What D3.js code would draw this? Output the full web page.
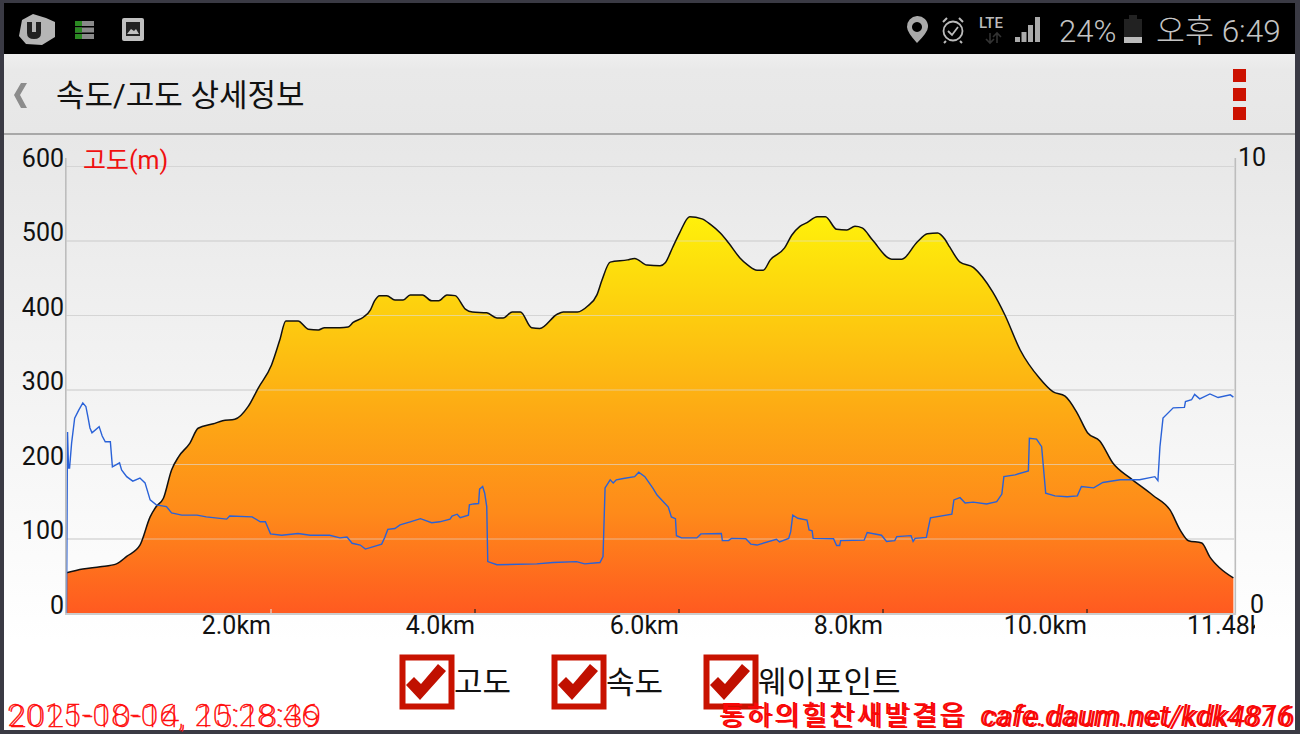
<!DOCTYPE html>
<html><head><meta charset="utf-8">
<script src="https://cdn.jsdelivr.net/npm/d3@7/dist/d3.min.js"></script>
<style>html,body{margin:0;padding:0;background:#fff;overflow:hidden}svg{display:block}text{font-family:Roboto,"Noto Sans CJK KR",sans-serif}</style>
</head><body><div id="c"></div>
<script>
const elevKm=[0,0.16,0.33,0.49,0.59,0.72,0.82,0.88,0.95,1.03,1.10,1.21,1.29,1.44,1.53,1.65,1.78,1.88,2.01,2.09,2.15,2.27,2.37,2.47,2.53,2.68,2.76,2.81,2.91,2.98,3.02,3.07,3.14,3.22,3.30,3.37,3.49,3.58,3.65,3.73,3.81,3.91,3.98,4.12,4.22,4.28,4.37,4.45,4.56,4.64,4.81,4.87,5.01,5.11,5.20,5.25,5.33,5.50,5.57,5.69,5.82,5.87,5.94,6.01,6.11,6.23,6.31,6.41,6.49,6.60,6.68,6.77,6.83,6.90,7.04,7.11,7.19,7.26,7.36,7.44,7.55,7.65,7.73,7.80,7.90,8.09,8.19,8.34,8.44,8.54,8.61,8.66,8.76,8.89,8.98,9.08,9.20,9.35,9.54,9.67,9.79,9.91,10.01,10.13,10.26,10.43,10.65,10.82,10.92,11.00,11.13,11.21,11.31,11.44];
const elevM=[54,59,62,66,76,91,129,143,154,192,210,228,248,254,258,260,277,302,333,366,392,392,381,380,383,383,384,390,397,407,419,426,426,420,420,427,427,419,419,427,426,408,404,403,396,396,404,404,383,382,401,404,404,412,427,447,471,474,476,467,466,470,490,510,532,529,522,510,497,477,467,460,460,474,490,507,519,524,532,532,515,514,519,517,501,475,475,498,509,510,502,491,471,464,451,431,400,353,315,297,291,268,242,231,201,181,158,138,111,97,94,75,60,47];
const speedKm=[0,0.01,0.02,0.03,0.05,0.08,0.12,0.16,0.19,0.21,0.23,0.25,0.32,0.35,0.38,0.43,0.45,0.52,0.54,0.59,0.65,0.72,0.77,0.82,0.88,0.98,1.03,1.13,1.28,1.37,1.57,1.60,1.82,1.90,1.95,2.00,2.11,2.27,2.39,2.58,2.68,2.75,2.80,2.88,2.93,3.09,3.12,3.15,3.22,3.27,3.37,3.47,3.58,3.66,3.76,3.78,3.83,3.86,3.94,3.95,3.99,4.04,4.05,4.08,4.10,4.12,4.13,4.22,4.61,4.77,5.00,5.08,5.23,5.26,5.28,5.33,5.36,5.39,5.46,5.57,5.61,5.67,5.75,5.79,5.90,5.93,5.97,5.98,6.03,6.18,6.22,6.42,6.43,6.49,6.52,6.66,6.71,6.77,6.96,6.99,7.08,7.10,7.12,7.17,7.26,7.28,7.31,7.32,7.52,7.55,7.58,7.59,7.82,7.85,7.99,8.04,8.12,8.14,8.28,8.30,8.32,8.43,8.47,8.68,8.70,8.76,8.81,8.89,9.02,9.12,9.17,9.19,9.30,9.43,9.44,9.51,9.56,9.60,9.69,9.81,9.91,9.95,10.07,10.16,10.33,10.52,10.67,10.70,10.72,10.75,10.85,10.96,10.97,11.03,11.06,11.11,11.21,11.29,11.41,11.44];
const speedV=[0,4.05,3.24,3.24,3.80,4.36,4.54,4.70,4.62,4.39,4.14,4.03,4.17,3.96,3.83,3.83,3.27,3.36,3.20,3.05,2.95,3.02,2.91,2.53,2.42,2.38,2.24,2.19,2.19,2.15,2.10,2.17,2.15,2.04,2.04,1.77,1.74,1.78,1.74,1.74,1.68,1.70,1.56,1.52,1.43,1.54,1.69,1.87,1.89,1.97,2.04,2.11,2.02,2.04,2.10,2.17,2.21,2.13,2.19,2.42,2.44,2.45,2.77,2.83,2.68,2.38,1.15,1.08,1.10,1.13,1.15,1.10,1.13,1.26,2.80,2.98,2.91,2.98,3.01,3.05,3.15,3.05,2.79,2.64,2.37,2.15,2.11,1.73,1.68,1.68,1.77,1.78,1.62,1.62,1.67,1.66,1.54,1.52,1.65,1.59,1.67,1.82,2.19,2.12,2.08,1.86,1.84,1.67,1.66,1.51,1.51,1.62,1.63,1.80,1.74,1.60,1.62,1.71,1.73,1.60,1.67,1.69,2.13,2.21,2.53,2.58,2.46,2.48,2.44,2.49,2.66,3.05,3.09,3.18,3.91,3.89,3.72,2.68,2.62,2.60,2.62,2.83,2.80,2.92,2.98,2.98,3.05,2.96,3.72,4.36,4.59,4.60,4.73,4.77,4.89,4.79,4.90,4.82,4.88,4.83];
const elevTicks=[0,100,200,300,400,500,600];
const speedTicks=[0,10];
const kmTicks=[2,4,6,8,10];
const kmEndLabel="11.48km";
const legendItems=["고도","속도","웨이포인트"];
const titleText="속도/고도 상세정보";
const elevTitle="고도(m)";
const stamps=["2015-08-06, 20:28:46","2021-10-14, 15:18:39"];
const noteKo="통하의힐찬새발결읍";
const noteUrls=["cafe.daum.net/kdk4876","cafe.daum.net/kdk4816"];

const W=1300,H=734;
const svg=d3.select("#c").append("svg").attr("width",W).attr("height",H);
const defs=svg.append("defs");
const bg=defs.append("linearGradient").attr("id","bg").attr("x1",0).attr("x2",0).attr("y1",0).attr("y2",1);
bg.append("stop").attr("offset",0).attr("stop-color","#e7e7e7");
bg.append("stop").attr("offset",.85).attr("stop-color","#ffffff");
bg.append("stop").attr("offset",1).attr("stop-color","#ffffff");
const head=defs.append("linearGradient").attr("id","head").attr("x1",0).attr("x2",0).attr("y1",0).attr("y2",1);
head.append("stop").attr("offset",0).attr("stop-color","#efefef");
head.append("stop").attr("offset",.2).attr("stop-color","#e9e9e9");
head.append("stop").attr("offset",1).attr("stop-color","#e7e7e7");
const fillG=defs.append("linearGradient").attr("id","fillG").attr("gradientUnits","userSpaceOnUse").attr("x1",0).attr("x2",0).attr("y1",215).attr("y2",613);
[[0,"#fff10a"],[.12,"#fde00c"],[.5,"#fda914"],[.75,"#fe8a1a"],[1,"#ff5a20"]].forEach(s=>fillG.append("stop").attr("offset",s[0]).attr("stop-color",s[1]));
defs.append("clipPath").attr("id","xclip").append("rect").attr("x",0).attr("y",600).attr("width",1255).attr("height",60);

svg.append("rect").attr("width",W).attr("height",H).attr("fill","#3a3a44");
svg.append("rect").attr("x",4).attr("y",3).attr("width",1291).attr("height",51).attr("fill","#000");
svg.append("rect").attr("x",4).attr("y",54).attr("width",1291).attr("height",79).attr("fill","url(#head)");
svg.append("rect").attr("x",4).attr("y",133).attr("width",1291).attr("height",2).attr("fill","#a8a8a8");
svg.append("rect").attr("x",4).attr("y",135).attr("width",1291).attr("height",595).attr("fill","url(#bg)");

// status bar icons
const st=svg.append("g");
st.append("path").attr("d","M22 20 L33 14 L46 18 L55 22 L55 37 L42 45 L26 44 L19 36 Z").attr("fill","#b5b5b5");
st.append("path").attr("d","M27 22 V33 Q27 39 34 39 Q41 39 41 33 V22 H36 V32 H32 V22 Z").attr("fill","#222");
[0,1,2].forEach(i=>{st.append("rect").attr("x",75).attr("y",21+i*6.5).attr("width",19).attr("height",5).attr("fill","#8a8a8a");st.append("rect").attr("x",75).attr("y",21+i*6.5).attr("width",7).attr("height",5).attr("fill","#2b8a22");});
st.append("rect").attr("x",122).attr("y",18).attr("width",22).attr("height",23).attr("rx",2).attr("fill","#c0c0c0");
st.append("rect").attr("x",126).attr("y",22).attr("width",14).attr("height",14).attr("fill","#222");
st.append("path").attr("d","M127 34 L131 29 L134 31 L136 29 L139 34 Z").attr("fill","#c0c0c0");
st.append("path").attr("d","M917 16 A10.5 10.5 0 0 1 928 27 Q928 32 917 43 Q907 32 907 27 A10.5 10.5 0 0 1 917 16 Z M917 22 A5 5 0 1 0 917.01 22 Z").attr("fill","#aaa").attr("fill-rule","evenodd");
st.append("circle").attr("cx",953).attr("cy",31).attr("r",9.5).attr("fill","none").attr("stroke","#bbb").attr("stroke-width",1.8);
st.append("path").attr("d","M948 31 L952 35 L958 27").attr("fill","none").attr("stroke","#bbb").attr("stroke-width",1.8);
st.append("path").attr("d","M943 22 L947 18 M963 22 L959 18 M946 41 L944 43 M960 41 L962 43").attr("stroke","#bbb").attr("stroke-width",2);
st.append("text").attr("x",979).attr("y",28).attr("font-size",15).attr("font-weight",500).attr("fill","#bbb").text("LTE");
st.append("path").attr("d","M990 33 V43 M986 39 L990 43 L994 39 M997 43 V33 M993 37 L997 33 L1001 37").attr("fill","none").attr("stroke","#333").attr("stroke-width",1.6);
[[1015,5],[1021.5,10],[1028,17],[1035,25]].forEach(b=>st.append("rect").attr("x",b[0]).attr("y",42-b[1]).attr("width",5).attr("height",b[1]).attr("fill","#aaa"));
st.append("text").attr("x",1059).attr("y",42).attr("font-size",31).attr("font-weight",300).attr("fill","#c4c4c4").text("24%");
st.append("rect").attr("x",1124).attr("y",19).attr("width",18).attr("height",24).attr("fill","#222");
st.append("rect").attr("x",1129).attr("y",15).attr("width",8).attr("height",4).attr("fill","#222");
st.append("rect").attr("x",1124).attr("y",37).attr("width",18).attr("height",6).attr("fill","#bbb");
st.append("text").attr("x",1156).attr("y",42).attr("font-size",31.5).attr("font-weight",300).attr("fill","#c4c4c4").text("오후 6:49");

// header
svg.append("path").attr("d","M27 83 L20 95 L27 108 L21 108 L14 95 L21 83 Z").attr("fill","#8c8c8c");
svg.append("text").attr("x",56).attr("y",106).attr("font-size",31).attr("font-weight",400).attr("fill","#111").text(titleText);
[69,88,107].forEach(y=>svg.append("rect").attr("x",1233).attr("y",y).attr("width",13).attr("height",13).attr("fill","#cc1100"));

// scales
const x=d3.scaleLinear().domain([0,11.446]).range([66.5,1234]);
const y=d3.scaleLinear().domain([0,600]).range([613,166]);
const yS=d3.scaleLinear().domain([0,10]).range([613,166]);
const elev=elevKm.map((k,i)=>({k,v:elevM[i]}));
const speed=speedKm.map((k,i)=>({k,v:speedV[i]}));

// grid under area
const grid=d3.axisLeft(y).tickValues(elevTicks.slice(1)).tickSize(-(x.range()[1]-x.range()[0])).tickFormat("");
const g0=svg.append("g").attr("transform","translate(66.5,0)").call(grid);
g0.select(".domain").remove();
g0.selectAll("line").attr("stroke","#c8c8c8").attr("stroke-width",1);

svg.append("path").datum(elev).attr("fill","url(#fillG)")
 .attr("d",d3.area().x(d=>x(d.k)).y0(y(0)).y1(d=>y(d.v)).curve(d3.curveMonotoneX));

const g1=svg.append("g").attr("transform","translate(66.5,0)").call(grid);
g1.select(".domain").remove();
g1.selectAll("line").attr("stroke","#dddddd").attr("stroke-opacity",.6).attr("stroke-width",1);

svg.append("path").datum(elev).attr("fill","none").attr("stroke","#111").attr("stroke-width",1.5)
 .attr("d",d3.line().x(d=>x(d.k)).y(d=>y(d.v)).curve(d3.curveMonotoneX));
svg.append("path").datum(speed).attr("fill","none").attr("stroke","#2a62d8").attr("stroke-width",1.4)
 .attr("d",d3.line().x(d=>x(d.k)).y(d=>yS(d.v)));

// frame axes
svg.append("rect").attr("x",65).attr("y",158).attr("width",1.6).attr("height",457).attr("fill","#bdbdbd");
svg.append("rect").attr("x",1234.5).attr("y",158).attr("width",1.6).attr("height",457).attr("fill","#bdbdbd");
svg.append("rect").attr("x",65).attr("y",613).attr("width",1171).attr("height",2).attr("fill","#cccccc");

const axL=svg.append("g").attr("transform","translate(65,0)").call(d3.axisLeft(y).tickValues(elevTicks).tickSize(0).tickPadding(1));
axL.select(".domain").remove();
axL.selectAll("text").attr("font-size",25).attr("fill","#111").attr("transform","translate(0,-8)");
const axR=svg.append("g").attr("transform","translate(1238,0)").call(d3.axisRight(yS).tickValues(speedTicks).tickSize(0).tickPadding(0));
axR.select(".domain").remove();
axR.selectAll("text").attr("font-size",25).attr("fill","#111").attr("transform","translate(0,-9)");
axR.selectAll(".tick").filter(d=>d===0).select("text").attr("x",12);

const axB=svg.append("g").attr("transform","translate(0,613)").call(d3.axisBottom(x).tickValues(kmTicks).tickSizeInner(-4).tickSizeOuter(0).tickPadding(0).tickFormat(d=>d.toFixed(1)+"km"));
axB.select(".domain").remove();
axB.selectAll("line").attr("stroke","#222").attr("stroke-width",1.2);
axB.selectAll(".tick").filter(d=>d===2).select("line").attr("stroke","#ddd");
axB.selectAll("text").attr("font-size",25).attr("fill","#111").attr("text-anchor","end").attr("y",3).attr("dy","0.71em");
svg.append("text").attr("clip-path","url(#xclip)").attr("x",1187).attr("y",634).attr("font-size",25).attr("fill","#111").text(kmEndLabel);

svg.append("text").attr("x",83).attr("y",169).attr("font-size",25).attr("fill","#f01010").text(elevTitle);

// legend
const legX=[400,552,704];
legendItems.forEach((t,i)=>{
 const g=svg.append("g").attr("transform",`translate(${legX[i]},655)`);
 g.append("rect").attr("x",2.5).attr("y",2.5).attr("width",49).attr("height",49).attr("fill","#fff").attr("stroke","#c81200").attr("stroke-width",6);
 g.append("path").attr("d","M6 30 L14 22 L21 29 L38 9 L46 16 L20 45 Z").attr("fill","#c01000");
 g.append("text").attr("x",54).attr("y",38).attr("font-size",31).attr("fill","#111").text(t);
});

// overlaid stamps
stamps.forEach((s,i)=>svg.append("text").attr("x",[7,9][i]).attr("y",[726,727][i]).attr("textLength",312).attr("lengthAdjust","spacing")
 .attr("font-size",32).attr("font-weight",100).attr("fill","#ff0a0a").attr("stroke","#ff0a0a").attr("stroke-width",.5).text(s));
[0,1].forEach(i=>svg.append("text").attr("x",[719,721][i]).attr("y",[725,726][i]).attr("textLength",245).attr("lengthAdjust","spacing")
 .attr("font-size",27).attr("font-weight",400).attr("fill","#f80808").text(noteKo));
noteUrls.forEach((s,i)=>svg.append("text").attr("x",[980,983][i]).attr("y",[726,727][i]).attr("textLength",312).attr("lengthAdjust","spacing")
 .attr("font-size",29).attr("font-style","italic").attr("font-weight",400).attr("fill","#f80808").text(s));
</script></body></html>
